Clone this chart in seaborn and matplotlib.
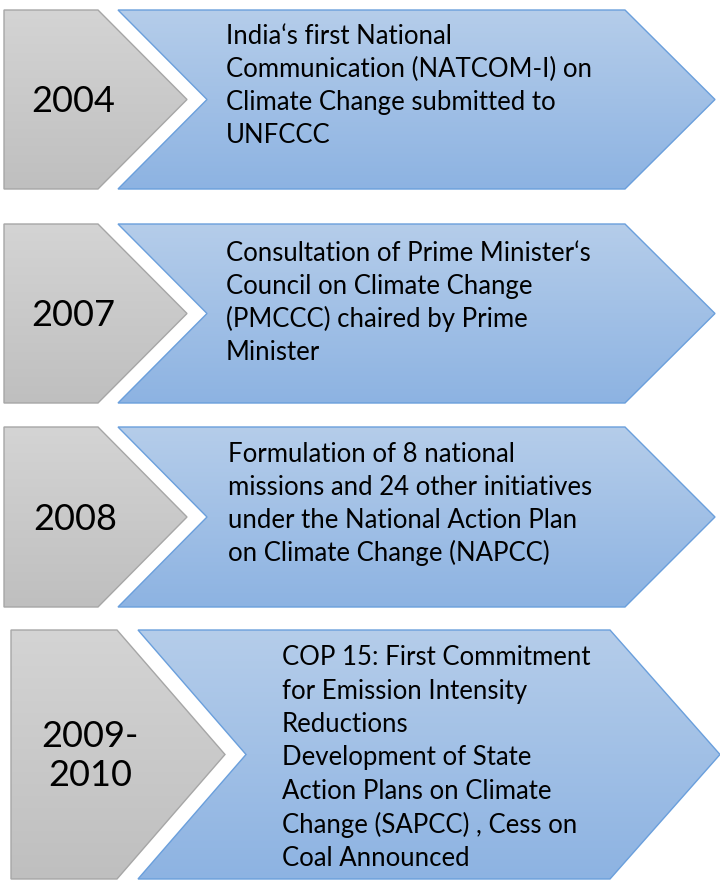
import numpy as np
import matplotlib.pyplot as plt
import seaborn as sns
from matplotlib.patches import Polygon

# ======================================
# DATA
# ======================================
years = ["2004", "2007", "2008", "2009-\n2010"]
descriptions = [
    ["India\u2018s first National", "Communication (NATCOM-I) on",
     "Climate Change submitted to", "UNFCCC"],
    ["Consultation of Prime Minister\u2018s", "Council on Climate Change",
     "(PMCCC) chaired by Prime", "Minister"],
    ["Formulation of 8 national", "missions and 24 other initiatives",
     "under the National Action Plan", "on Climate Change (NAPCC)"],
    ["COP 15: First Commitment", "for Emission Intensity", "Reductions",
     "Development of State", "Action Plans on Climate",
     "Change (SAPCC) , Cess on", "Coal Announced"],
]

# ======================================
# LAYOUT (pixels, y downwards)
# ======================================
row_top = [10, 224, 427, 630]
row_bot = [189, 403, 607, 879]
gray_x = [(4, 98, 187), (4, 98, 187), (4, 98, 187), (11, 117, 225)]
blue_x = [(118, 207, 625, 715), (118, 207, 625, 715), (118, 207, 625, 715),
          (138, 246, 610, 720)]
year_xy = [(73, 102), (73, 316), (75, 520), (90, 756)]
text_x = [226, 226, 228, 282]
text_base = [44, 261, 462, 665]
line_step = [33, 33, 33, 33.5]

W, H = 720, 881
sns.set_style("white")
plt.rcParams["font.family"] = ["Lato", "DejaVu Sans"]

gray_cmap = sns.blend_palette(["#d4d4d4", "#bfbfbf"], 64, as_cmap=True)
blue_cmap = sns.blend_palette(["#b5cdea", "#8db3e2"], 64, as_cmap=True)

fig = plt.figure(figsize=(W / 100, H / 100), dpi=100)
ax = fig.add_axes([0, 0, 1, 1])
ax.set_xlim(0, W)
ax.set_ylim(H, 0)
ax.axis("off")


def shape(pts, cmap, edge):
    poly = Polygon(pts, closed=True, facecolor="none", edgecolor=edge, lw=1, zorder=3)
    ax.add_patch(poly)
    xs = [p[0] for p in pts]
    ys = [p[1] for p in pts]
    grad = np.linspace(0, 1, 256).reshape(-1, 1)
    im = ax.imshow(grad, cmap=cmap, aspect="auto", zorder=2,
                   extent=(min(xs), max(xs), max(ys), min(ys)))
    im.set_clip_path(poly)


for i in range(len(years)):
    t, b = row_top[i], row_bot[i]
    m = (t + b) / 2
    gl, gf, gt = gray_x[i]
    shape([(gl, t), (gf, t), (gt, m), (gf, b), (gl, b)], gray_cmap, "#a6a6a6")
    bl, bn, bf, bt = blue_x[i]
    shape([(bl, t), (bf, t), (bt, m), (bf, b), (bl, b), (bn, m)], blue_cmap, "#6a9fdc")

    ax.text(year_xy[i][0], year_xy[i][1], years[i], fontsize=26, ha="center",
            va="center", linespacing=1.25, color="black", zorder=4)
    for j, line in enumerate(descriptions[i]):
        ax.text(text_x[i], text_base[i] + j * line_step[i], line, fontsize=18.5,
                ha="left", va="baseline", color="black", zorder=4)

fig.savefig("out.png", dpi=100)
